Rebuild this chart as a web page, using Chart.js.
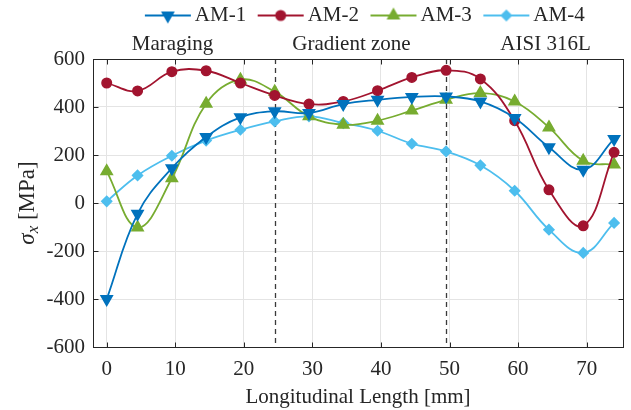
<!DOCTYPE html>
<html>
<head>
<meta charset="utf-8">
<script src="https://cdn.jsdelivr.net/npm/chart.js@4"></script>
<style>
  html, body { margin: 0; padding: 0; background: #fff; }
</style>
</head>
<body>
<canvas id="myChart" width="631" height="410"></canvas>
<script>
// measuring points along the specimen [mm]
const positions = [0, 4.5, 9.5, 14.5, 19.5, 24.5, 29.5, 34.5, 39.5, 44.5, 49.5, 54.5, 59.5, 64.5, 69.5, 74];

// sigma_x [MPa] per specimen
const am1 = [-400, -45, 145, 275, 357, 382, 375, 412, 430, 442, 444, 423, 354, 232, 139, 267];
const am2 = [500, 467, 547, 551, 500, 448, 412, 423, 468, 523, 553, 517, 343, 55, -95, 211];
const am3 = [132, -102, 103, 414, 514, 464, 361, 326, 343, 385, 430, 458, 423, 315, 176, 160];
const am4 = [7, 115, 197, 260, 305, 340, 361, 333, 301, 247, 215, 157, 51, -111, -208, -83];

const x_ticks = [0, 10, 20, 30, 40, 50, 60, 70];
const y_ticks = [-600, -400, -200, 0, 200, 400, 600];

// borders between the zones and the zone names over the plot
const zone_borders = [24.5, 49.5];
const zone_names = ['Maraging', 'Gradient zone', 'AISI 316L'];
const zone_centers = [9.6, 35.7, 64];

const series_names = ['AM-1', 'AM-2', 'AM-3', 'AM-4'];
const series_values = [am1, am2, am3, am4];
const series_colors = ['#0072BD', '#A2142F', '#77AC30', '#4DBEEE'];
const series_markers = ['triangle', 'circle', 'triangle', 'rectRot'];
const series_rotation = [180, 0, 0, 0];
const series_radius = [6.5, 4.75, 6.5, 5];

const FONT = "'Liberation Serif', 'Times New Roman', serif";
const INK = '#262626';

// line + marker picture for the legend (left part left empty so the
// picture sits close to its text)
function legend_icon(i) {
    const c = document.createElement('canvas');
    c.width = 66; c.height = 18;
    const ctx = c.getContext('2d');
    ctx.strokeStyle = series_colors[i];
    ctx.fillStyle = series_colors[i];
    ctx.lineWidth = 1.8;
    ctx.beginPath(); ctx.moveTo(17, 9); ctx.lineTo(63, 9); ctx.stroke();
    ctx.lineWidth = 1.5;
    Chart.helpers.drawPoint(ctx, {
        pointStyle: series_markers[i], rotation: series_rotation[i],
        radius: series_radius[i], borderWidth: 1.5
    }, 40, 9);
    return c;
}

const datasets = series_names.map((name, i) => ({
    label: name,
    data: positions.map((p, k) => ({x: p, y: series_values[i][k]})),
    borderColor: series_colors[i],
    backgroundColor: series_colors[i],
    borderWidth: 1.8,
    tension: 0.4,
    pointStyle: series_markers[i],
    pointRotation: series_rotation[i],
    pointRadius: series_radius[i],
    pointBorderWidth: 1.5,
    pointHoverRadius: series_radius[i],
}));

const deco = {
    id: 'deco',
    afterLayout(chart) {
        // move the legend over the middle of the plot
        chart.legend.left += 47;
        chart.legend.right += 47;
    },
    beforeDatasetsDraw(chart) {
        const {ctx, chartArea: a, scales: {x}} = chart;
        ctx.save();
        ctx.strokeStyle = '#3a3a3a';
        ctx.lineWidth = 1.3;
        ctx.setLineDash([5, 4]);
        zone_borders.forEach(v => {
            const px = Math.round(x.getPixelForValue(v)) + 0.5;
            ctx.beginPath(); ctx.moveTo(px, a.top); ctx.lineTo(px, a.bottom); ctx.stroke();
        });
        ctx.restore();
    },
    afterDatasetsDraw(chart) {
        const {ctx, chartArea: a, scales: {x, y}} = chart;
        const l = Math.round(a.left) + 0.5, r = Math.round(a.right) + 0.5;
        const t = Math.round(a.top) + 0.5, b = Math.round(a.bottom) + 0.5;
        ctx.save();
        ctx.strokeStyle = INK;
        ctx.lineWidth = 1;
        ctx.strokeRect(l, t, r - l, b - t);
        ctx.beginPath();
        x_ticks.forEach(v => {
            const px = Math.round(x.getPixelForValue(v)) + 0.5;
            ctx.moveTo(px, b); ctx.lineTo(px, b - 5);
            ctx.moveTo(px, t); ctx.lineTo(px, t + 5);
        });
        y_ticks.forEach(v => {
            const py = Math.round(y.getPixelForValue(v)) + 0.5;
            ctx.moveTo(l, py); ctx.lineTo(l + 5, py);
            ctx.moveTo(r, py); ctx.lineTo(r - 5, py);
        });
        ctx.stroke();
        ctx.restore();
    },
    afterDraw(chart) {
        // y title: sigma with subscript x
        const {ctx, chartArea: a} = chart;
        ctx.save();
        ctx.translate(27, (a.top + a.bottom) / 2);
        ctx.rotate(-Math.PI / 2);
        ctx.fillStyle = INK;
        ctx.textBaseline = 'alphabetic';
        const f1 = 'italic 23px ' + FONT, f2 = 'italic 17px ' + FONT, f3 = '23px ' + FONT;
        ctx.font = f1; const w1 = ctx.measureText('σ').width;
        ctx.font = f2; const w2 = ctx.measureText('x').width;
        ctx.font = f3; const w3 = ctx.measureText(' [MPa]').width;
        let cx = -(w1 + w2 + w3) / 2;
        ctx.font = f1; ctx.fillText('σ', cx, 7); cx += w1;
        ctx.font = f2; ctx.fillText('x', cx, 11); cx += w2;
        ctx.font = f3; ctx.fillText(' [MPa]', cx, 7);
        ctx.restore();
    }
};

const myChart = new Chart(document.getElementById('myChart'), {
    type: 'line',
    data: {datasets: datasets},
    options: {
        responsive: false,
        animation: false,
        devicePixelRatio: 1,
        layout: {padding: {top: 1, right: 3, bottom: 0, left: 0}},
        plugins: {
            tooltip: {enabled: false},
            legend: {
                position: 'top',
                labels: {
                    usePointStyle: true,
                    pointStyleWidth: 47,
                    padding: 4,
                    color: INK,
                    font: {family: FONT, size: 21},
                    generateLabels: (chart) => series_names.map((name, i) => ({
                        text: name,
                        fillStyle: series_colors[i],
                        strokeStyle: series_colors[i],
                        lineWidth: 0,
                        pointStyle: legend_icon(i),
                        rotation: 0,
                        hidden: false,
                        datasetIndex: i,
                        fontColor: INK,
                    })),
                },
            },
        },
        scales: {
            x: {
                type: 'linear',
                min: -2,
                max: 75.3,
                afterBuildTicks: (s) => { s.ticks = x_ticks.map(v => ({value: v})); },
                afterFit: (s) => { s.height = 63; },
                grid: {color: '#e4e4e4', drawTicks: false},
                border: {display: false},
                ticks: {color: INK, padding: 10, maxRotation: 0, font: {family: FONT, size: 21}},
                title: {display: true, text: 'Longitudinal Length [mm]', color: INK,
                        padding: {top: 0, bottom: 0}, font: {family: FONT, size: 21}},
            },
            zones: {
                type: 'linear',
                position: 'top',
                min: -2,
                max: 75.3,
                afterBuildTicks: (s) => { s.ticks = zone_centers.map(v => ({value: v})); },
                afterFit: (s) => { s.height = 23; },
                grid: {display: false, drawTicks: false},
                border: {display: false},
                ticks: {
                    color: INK, padding: 4, maxRotation: 0, autoSkip: false,
                    font: {family: FONT, size: 21, lineHeight: 1},
                    callback: (v, i) => zone_names[i],
                },
            },
            y: {
                type: 'linear',
                min: -600,
                max: 600,
                afterBuildTicks: (s) => { s.ticks = y_ticks.map(v => ({value: v})); },
                afterFit: (s) => { s.width = 93; },
                grid: {color: '#e4e4e4', drawTicks: false},
                border: {display: false},
                ticks: {color: INK, padding: 8, font: {family: FONT, size: 21}},
            },
        },
    },
    plugins: [deco],
});
</script>
</body>
</html>
